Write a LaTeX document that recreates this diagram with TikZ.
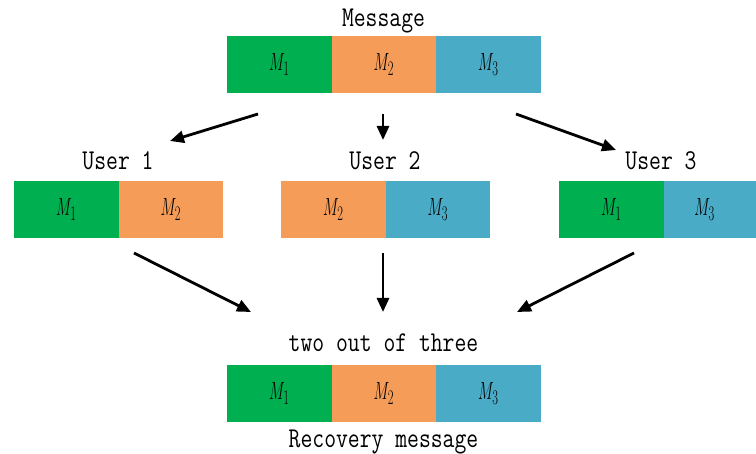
\documentclass[tikz,border=0pt]{standalone}
\usepackage{fontspec}
\usepackage{graphicx}
\usetikzlibrary{positioning,arrows.meta}
\definecolor{shareA}{HTML}{00B050}
\definecolor{shareB}{HTML}{F59D58}
\definecolor{shareC}{HTML}{4AABC6}
\newcommand{\lbl}[1]{\scalebox{1}[1.25]{\fontsize{23}{26}\selectfont\ttfamily #1}}
\newcommand{\piece}[1]{\scalebox{0.6}[1]{\fontsize{30}{34}\selectfont$M_{#1}$}}

\begin{document}
\begin{tikzpicture}[x=1pt,y=-1pt]
                        \tikzstyle{cell}=[minimum width=104.5pt, minimum height=57pt, inner sep=0pt, outer sep=0pt]
                        \tikzstyle{txt}=[inner sep=0pt]
                        \tikzstyle{flow}=[line width=2.8pt, -{Triangle[length=14pt,width=12pt]}]
                        \useasboundingbox (0,0) rectangle (756,454);
                        % message
                        \node[txt] (msg) at (383.5,21) {\lbl{Message}};
                        \node[cell,fill=shareA,anchor=north west] (m1) at (227,36) {\piece1};
                        \node[cell,fill=shareB,right=0pt of m1] (m2) {\piece2};
                        \node[cell,fill=shareC,right=0pt of m2] (m3) {\piece3};
                        % users
                        \node[txt] (u1) at (118,161) {\lbl{User 1}};
                        \node[cell,fill=shareA,anchor=north west] (u1a) at (14,181) {\piece1};
                        \node[cell,fill=shareB,right=0pt of u1a] (u1b) {\piece2};
                        \node[txt] (u2) at (385,161) {\lbl{User 2}};
                        \node[cell,fill=shareB,anchor=north west] (u2a) at (281,181) {\piece2};
                        \node[cell,fill=shareC,right=0pt of u2a] (u2b) {\piece3};
                        \node[txt] (u3) at (661,161) {\lbl{User 3}};
                        \node[cell,fill=shareA,anchor=north west] (u3a) at (559,181) {\piece1};
                        \node[cell,fill=shareC,right=0pt of u3a,minimum width=93pt] (u3b) {\hspace*{-11pt}\piece3};
                        % recovery
                        \node[txt] (rule) at (383.5,343) {\lbl{two out of three}};
                        \node[cell,fill=shareA,anchor=north west] (r1) at (227,365) {\piece1};
                        \node[cell,fill=shareB,right=0pt of r1] (r2) {\piece2};
                        \node[cell,fill=shareC,right=0pt of r2] (r3) {\piece3};
                        \node[txt] (rec) at (383.5,442) {\lbl{Recovery message}};
                        % arrows
                        \coordinate (s1) at (258,114);  \coordinate (e1) at (170,141);
                        \coordinate (s2) at (383,114);  \coordinate (e2) at (383,140);
                        \coordinate (s3) at (516,114);  \coordinate (e3) at (616,150);
                        \coordinate (t1) at (134,253);  \coordinate (f1) at (251,312);
                        \coordinate (t2) at (383,253);  \coordinate (f2) at (383,312);
                        \coordinate (t3) at (634,253);  \coordinate (f3) at (517,312);
                        \draw[flow] (s1) -- (e1);
                        \draw[flow] (s2) -- (e2);
                        \draw[flow] (s3) -- (e3);
                        \draw[flow] (t1) -- (f1);
                        \draw[flow] (t2) -- (f2);
                        \draw[flow] (t3) -- (f3);
                    \end{tikzpicture}
\end{document}
